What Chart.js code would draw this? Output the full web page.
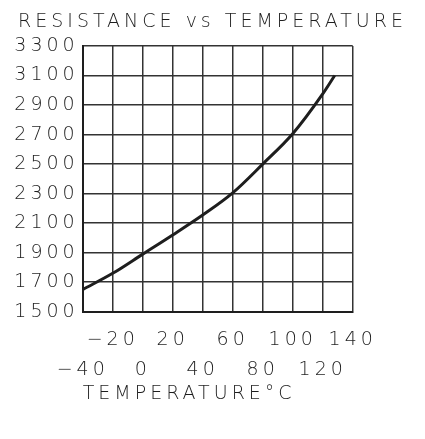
<!DOCTYPE html>
<html>
<head>
<meta charset="utf-8">
<script src="https://cdn.jsdelivr.net/npm/chart.js@4"></script>
<style>
  body { margin: 0; background: #fff; }
  canvas { display: block; }
</style>
</head>
<body>
<canvas id="chart" width="425" height="439"></canvas>
<script>
// temperature (°C) and resistance
const temperatures = [-40, -20, 0, 20, 40, 60, 80, 100, 120, 128];
const resistances = [1650, 1760, 1890, 2020, 2155, 2305, 2500, 2705, 2975, 3100];

const xTickLabels = ['\u221240', '\u221220', '0', '20', '40', '60', '80', '100', '120', '140'];
const yTickLabels = ['1500', '1700', '1900', '2100', '2300', '2500', '2700', '2900', '3100', '3300'];

const ink = '#1e1e1e';
const fontFamily = '"DejaVu Sans", sans-serif';
const fontWeight = 200;

// wide lettering like the plotter font of the original
const spacing = {
    id: 'spacing',
    beforeLayout(chart) { chart.ctx.letterSpacing = '4px'; },
    beforeDraw(chart) { chart.ctx.letterSpacing = '4px'; }
};

const ctx = document.getElementById('chart').getContext('2d');

new Chart(ctx, {
    type: 'line',
    data: {
        datasets: [{
            data: temperatures.map((t, i) => ({ x: t, y: resistances[i] })),
            borderColor: ink,
            borderWidth: 3,
            pointRadius: 0,
            cubicInterpolationMode: 'monotone',
            fill: false
        }]
    },
    options: {
        responsive: false,
        animation: false,
        layout: {
            padding: { top: 0, left: 0, right: 0, bottom: 37.4 }
        },
        plugins: {
            legend: { display: false },
            tooltip: { enabled: false },
            title: {
                display: true,
                text: 'RESISTANCE vs TEMPERATURE',
                color: ink,
                font: { family: fontFamily, size: 19, weight: fontWeight, lineHeight: 1.2 },
                padding: { top: 11, bottom: 12.2 }
            }
        },
        scales: {
            x: {
                type: 'linear',
                min: -40,
                max: 140,
                border: { color: ink, width: 2 },
                grid: { color: '#333', lineWidth: 1.5, drawTicks: false },
                ticks: {
                    stepSize: 20,
                    autoSkip: false,
                    maxRotation: 0,
                    padding: 13.3,
                    color: ink,
                    font: { family: fontFamily, size: 19, weight: fontWeight, lineHeight: '30px' },
                    callback: function (value) {
                        let index = Math.round((value + 40) / 20);
                        let label = xTickLabels[index];
                        return index % 2 ? [label, ''] : ['', label];
                    }
                },
                title: {
                    display: true,
                    text: 'TEMPERATURE\u00b0C',
                    align: 'start',
                    color: ink,
                    font: { family: fontFamily, size: 19, weight: fontWeight, lineHeight: 0.8 },
                    padding: { top: -11.9, bottom: 0 }
                }
            },
            y: {
                min: 1500,
                max: 3300,
                border: { color: ink, width: 2 },
                grid: { color: '#333', lineWidth: 1.5, drawTicks: false },
                afterFit: function (scale) {
                    scale.width = 82.7;
                },
                ticks: {
                    stepSize: 200,
                    padding: 4,
                    color: ink,
                    font: { family: fontFamily, size: 19, weight: fontWeight, lineHeight: 1.2 },
                    callback: function (value) {
                        return yTickLabels[Math.round((value - 1500) / 200)];
                    }
                }
            },
            // empty right-hand axis that keeps the blank margin beside the grid
            blank: {
                position: 'right',
                grid: { display: false },
                border: { display: false },
                ticks: { display: false },
                afterFit: function (scale) {
                    scale.width = 72.3;
                }
            }
        }
    },
    plugins: [spacing]
});
</script>
</body>
</html>
